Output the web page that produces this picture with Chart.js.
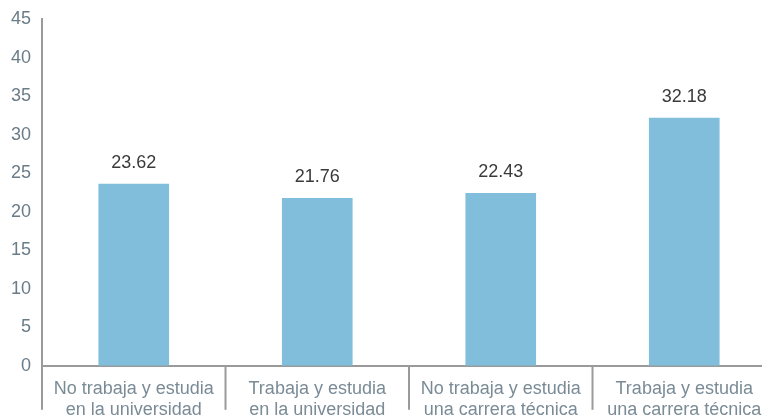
<!DOCTYPE html>
<html>
<head>
<meta charset="utf-8">
<script src="https://cdn.jsdelivr.net/npm/chart.js@4"></script>
<style>
  html, body { margin: 0; padding: 0; background: #fff; overflow: hidden; }
  #wrap { width: 776px; height: 425px; position: relative; }
</style>
</head>
<body>
<div id="wrap"><canvas id="barChart"></canvas></div>
<script>
const categories = [
    ['No trabaja y estudia', 'en la universidad'],
    ['Trabaja y estudia', 'en la universidad'],
    ['No trabaja y estudia', 'una carrera técnica'],
    ['Trabaja y estudia', 'una carrera técnica']
];
const values = [23.62, 21.76, 22.43, 32.18];
const valueLabels = ['23.62', '21.76', '22.43', '32.18'];

const fontName = '"Liberation Sans", Arial, sans-serif';
const lineColor = '#9a9a9a';

// writes the number above every bar
const valueLabelPlugin = {
    id: 'valueLabels',
    afterDatasetsDraw(chart) {
        const c = chart.ctx;
        const meta = chart.getDatasetMeta(0);
        c.save();
        c.font = '18px ' + fontName;
        c.fillStyle = '#3a3a3a';
        c.textAlign = 'center';
        c.textBaseline = 'middle';
        meta.data.forEach((bar, i) => {
            c.fillText(valueLabels[i], bar.x, bar.y - 21);
        });
        c.restore();
    }
};

// long separators between the categories, below the zero line
const separatorPlugin = {
    id: 'separators',
    afterDraw(chart) {
        const c = chart.ctx;
        const x = chart.scales.x;
        const top = chart.chartArea.bottom;
        c.save();
        c.strokeStyle = lineColor;
        c.lineWidth = 2;
        for (let i = 0; i <= categories.length; i++) {
            const px = x.getPixelForValue(i - 0.5);
            c.beginPath();
            c.moveTo(px, top);
            c.lineTo(px, top + 44);
            c.stroke();
        }
        c.restore();
    }
};

const ctx = document.getElementById('barChart').getContext('2d');

const barChart = new Chart(ctx, {
    type: 'bar',
    data: {
        labels: categories,
        datasets: [{
            data: values,
            backgroundColor: '#80bedb',
            barPercentage: 0.77,
            categoryPercentage: 0.5
        }]
    },
    options: {
        responsive: true,
        maintainAspectRatio: false,
        animation: false,
        layout: { padding: { top: 19, right: 0, left: 0, bottom: 0 } },
        plugins: { legend: { display: false }, tooltip: { enabled: false } },
        scales: {
            x: {
                grid: { display: false },
                border: { color: lineColor, width: 2 },
                ticks: {
                    padding: 4,
                    color: '#7a8b96',
                    font: { family: fontName, size: 18, lineHeight: 1.2 },
                    maxRotation: 0,
                    autoSkip: false
                }
            },
            y: {
                min: 0,
                max: 45,
                grid: { display: false },
                border: { color: lineColor, width: 2 },
                afterFit: s => { s.width = 42; },
                ticks: {
                    stepSize: 5,
                    padding: 3,
                    color: '#6a7c88',
                    font: { family: fontName, size: 18 }
                }
            }
        }
    },
    plugins: [valueLabelPlugin, separatorPlugin]
});
</script>
</body>
</html>
